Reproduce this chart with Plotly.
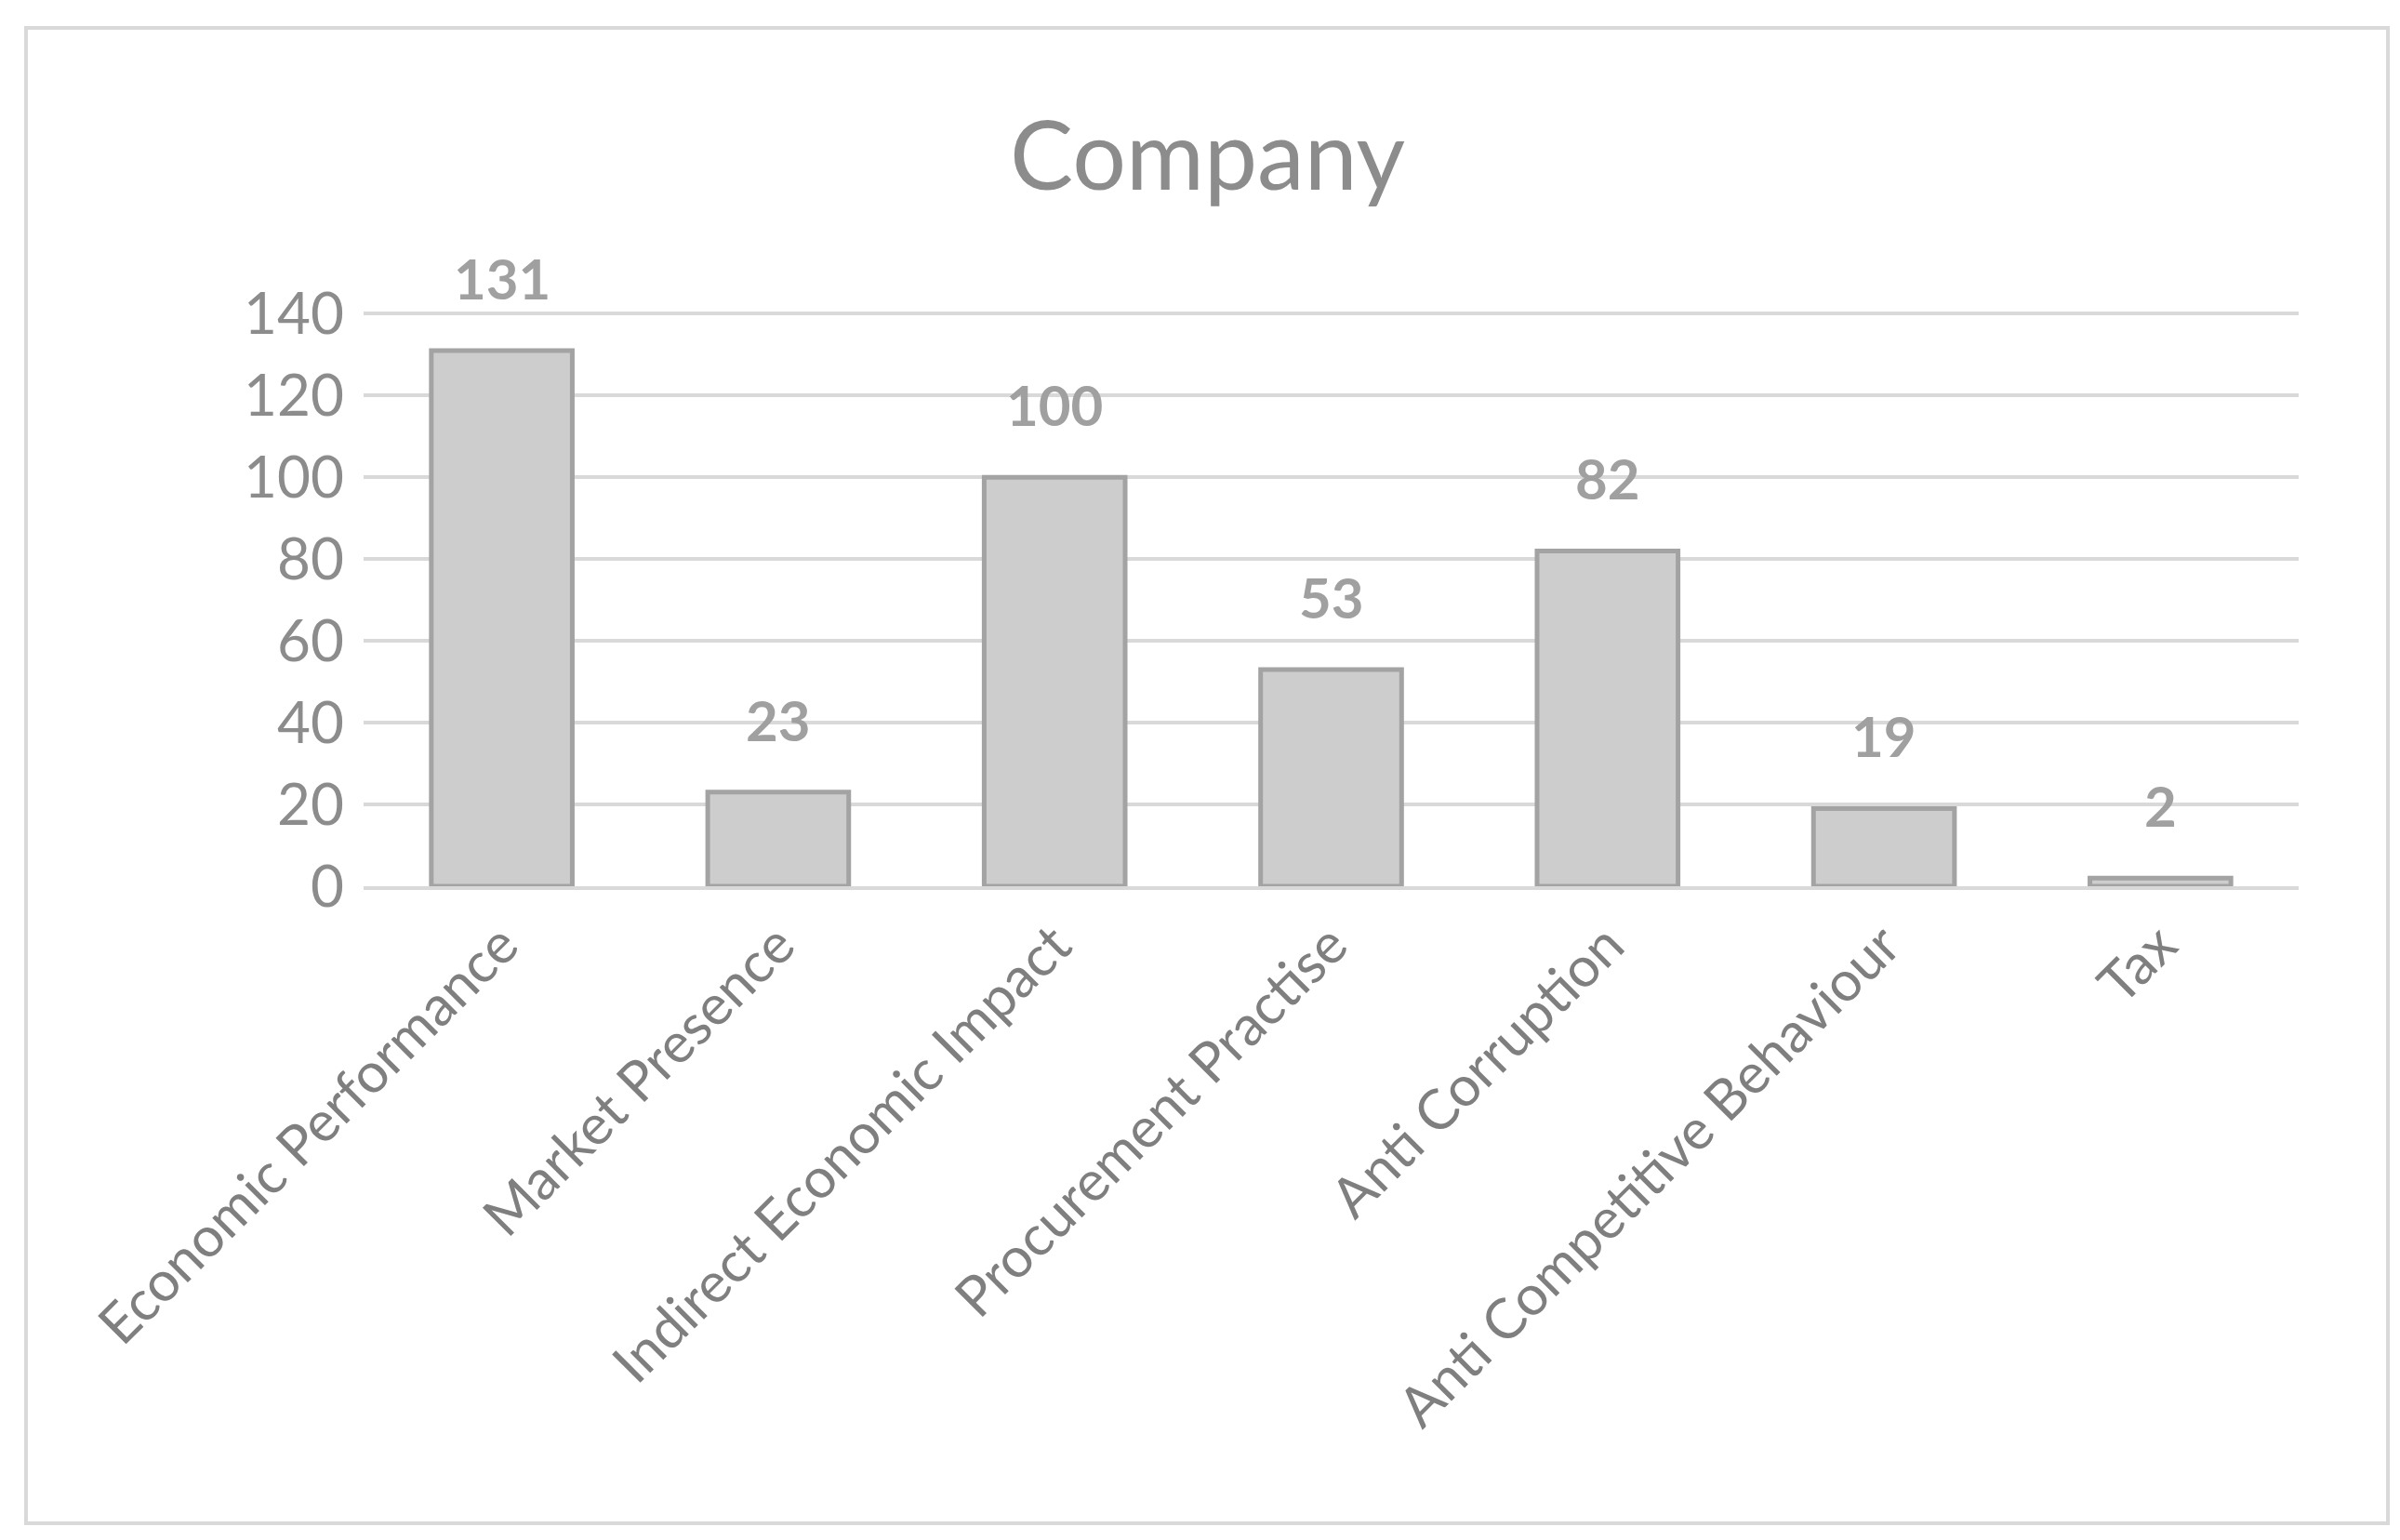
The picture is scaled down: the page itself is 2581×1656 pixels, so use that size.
import plotly.graph_objects as go

categories = ["Economic Performance", "Market Presence", "Indirect Economic Impact",
              "Procurement Practise", "Anti Corruption", "Anti Competitive Behaviour", "Tax"]
values = [131, 23, 100, 53, 82, 19, 2]
tick_vals = [0, 20, 40, 60, 80, 100, 120, 140]

W, H = 2581, 1656
L, R, T, B = 383, 117, 328, 711
pw, ph = W - L - R, H - T - B

fig = go.Figure(go.Bar(
    x=categories, y=values,
    marker=dict(color="#cdcdcd", line=dict(color="#a3a3a3", width=5)),
    width=0.51, cliponaxis=False,
))
for c, v in zip(categories, values):
    fig.add_annotation(x=c, y=v, text=f"<b>{v}</b>", showarrow=False, yshift=78,
                       font=dict(size=60, color="#a0a0a0", family="Lato"))

def px_x(p): return (p - L) / pw
def px_y(p): return (H - B - p) / ph

fig.add_shape(type="rect", xref="paper", yref="paper",
              x0=px_x(20), x1=px_x(2560), y0=px_y(1630), y1=px_y(22),
              line=dict(color="#d9d9d9", width=4), fillcolor="rgba(0,0,0,0)", layer="below")

fig.update_layout(
    width=W, height=H, margin=dict(l=L, r=R, t=T, b=B),
    paper_bgcolor="white", plot_bgcolor="white",
    font=dict(family="Lato", color="#8c8c8c"),
    title=dict(text="Company", x=0.5, xanchor="center", y=1 - 160 / H, yanchor="middle",
               font=dict(size=102, color="#8c8c8c", family="Lato")),
    showlegend=False,
    xaxis=dict(tickangle=-45, tickfont=dict(size=60, color="#7f7f7f"),
               showline=True, linecolor="#d9d9d9", linewidth=4, ticks=""),
    yaxis=dict(range=[0, 140.3], tickvals=tick_vals, tickfont=dict(size=62, color="#8c8c8c"),
               gridcolor="#d9d9d9", gridwidth=4, zeroline=False, showline=False, ticks="",
               ticklabelstandoff=20),
)
fig.write_html("out.html")
